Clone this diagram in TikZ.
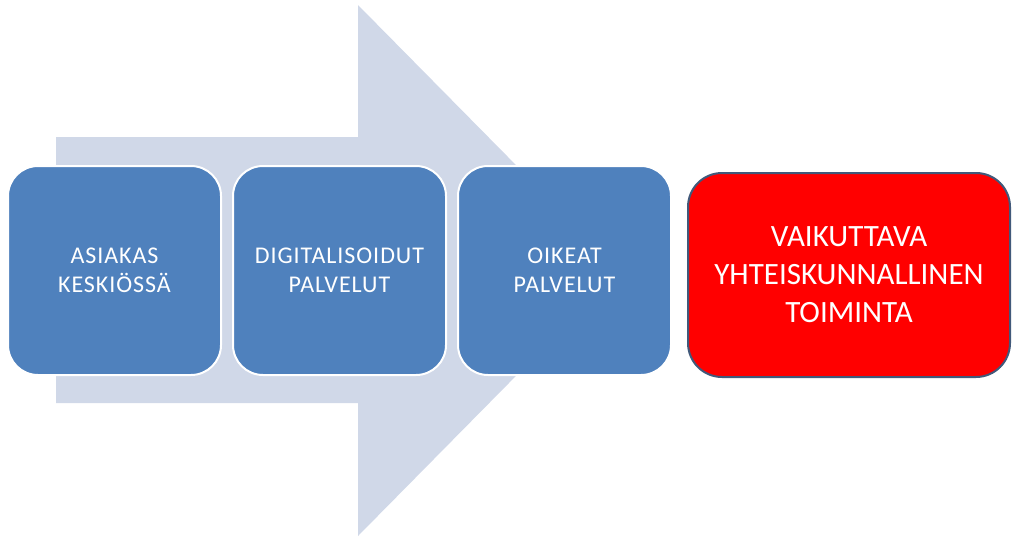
\documentclass[tikz,border=0pt]{standalone}
\usepackage{fontspec}
\setmainfont{Carlito}
\newfontfamily\widefont[LetterSpace=4]{Carlito}
\definecolor{arrowfill}{HTML}{D0D8E8}
\definecolor{boxfill}{HTML}{4F81BD}
\definecolor{redborder}{HTML}{41597A}
\begin{document}
\begin{tikzpicture}[x=1pt,y=-1pt,
  bluebox/.style={draw=white, line width=2pt, fill=boxfill, rounded corners=30pt,
    minimum width=213pt, minimum height=209pt, inner sep=0pt, align=center,
    text=white, font=\widefont\fontsize{24}{29}\selectfont},
  redbox/.style={draw=redborder, line width=2pt, fill=red, rounded corners=34pt,
    minimum width=322pt, minimum height=204pt, inner sep=0pt, align=center,
    text=white, font=\fontsize{31}{38}\selectfont}]
\useasboundingbox (0,0) rectangle (1012,539);
\fill[arrowfill] (56,137) -- (358,137) -- (358,5) -- (620,270.5) -- (358,536) -- (358,403) -- (56,403) -- cycle;
\node[bluebox] (b1) at (114.5,270.5) {ASIAKAS\\KESKIÖSSÄ};
\node[bluebox] (b2) at (339.5,270.5) {DIGITALISOIDUT\\PALVELUT};
\node[bluebox] (b3) at (564.5,270.5) {OIKEAT\\PALVELUT};
\node[redbox] (r) at (849,275) {VAIKUTTAVA\\YHTEISKUNNALLINEN\\TOIMINTA};
\end{tikzpicture}
\end{document}
